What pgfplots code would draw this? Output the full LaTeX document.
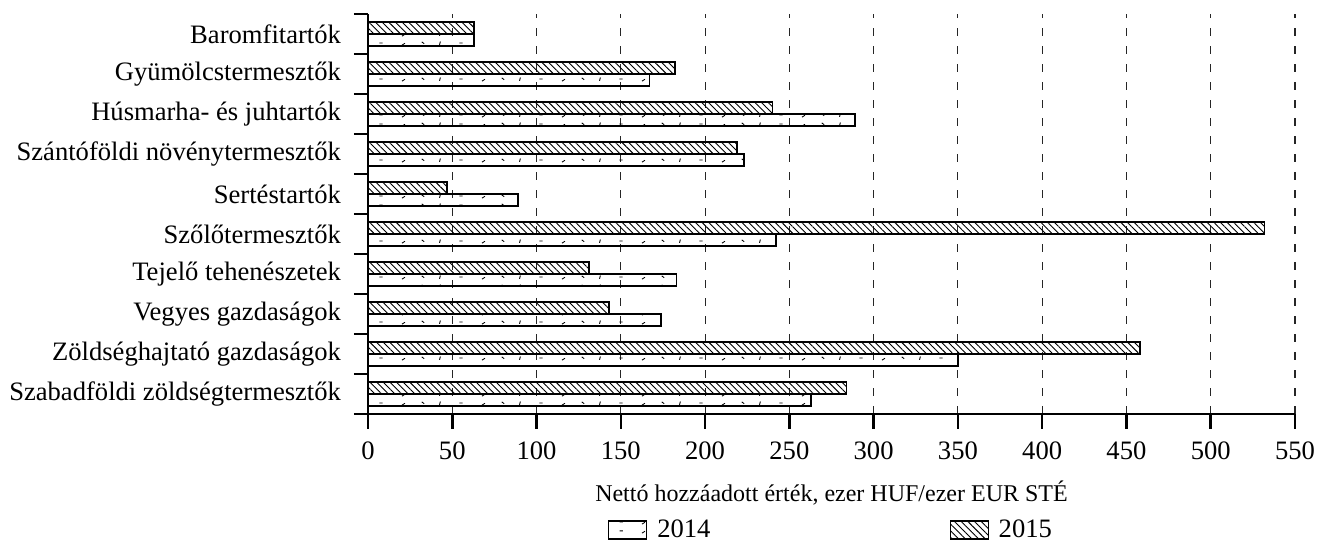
\documentclass[border=0pt]{standalone}
\usepackage{fontspec}
\setmainfont{Liberation Serif}
\usepackage{pgfplots}
\pgfplotsset{compat=1.18}
\usetikzlibrary{patterns,patterns.meta}

\pgfdeclarepatternformonly{randdash}{\pgfpoint{0pt}{0pt}}{\pgfpoint{40pt}{4.6pt}}{\pgfpoint{40pt}{4.6pt}}{%
  \pgfsetlinewidth{0.45pt}%
  \pgfpathmoveto{\pgfpoint{1pt}{1pt}}\pgfpathlineto{\pgfpoint{2.5pt}{2pt}}%
  \pgfpathmoveto{\pgfpoint{11pt}{2.8pt}}\pgfpathlineto{\pgfpoint{12.2pt}{1.8pt}}%
  \pgfpathmoveto{\pgfpoint{20pt}{1.2pt}}\pgfpathlineto{\pgfpoint{20.4pt}{3pt}}%
  \pgfpathmoveto{\pgfpoint{30pt}{2.2pt}}\pgfpathlineto{\pgfpoint{31.6pt}{2.2pt}}%
  \pgfusepath{stroke}%
}

\begin{document}
\begin{tikzpicture}
\begin{axis}[
  at={(184pt,65pt)}, anchor=south west,
  scale only axis, width=463.5pt, height=200pt,
  xmin=0, xmax=550, ymin=-0.5, ymax=9.5,
  xtick={0,50,...,550},
  ytick={0,...,9},
  yticklabels={Szabadföldi zöldségtermesztők, Zöldséghajtató gazdaságok, Vegyes gazdaságok, Tejelő tehenészetek, Szőlőtermesztők, Sertéstartók, Szántóföldi növénytermesztők, Húsmarha- és juhtartók, Gyümölcstermesztők, Baromfitartók},
  minor ytick={-0.5,0.5,...,9.5},
  axis x line*=bottom, axis y line*=left,
  axis line style={line width=1.3pt, -},
  tick align=outside,
  major tick length=7.5pt,
  minor tick length=7pt,
  major y tick style={draw=none},
  minor y tick style={line width=1.3pt, black},
  major x tick style={line width=1.3pt, black},
  xmajorgrids,
  major x grid style={dash pattern=on 4pt off 5pt, line width=0.55pt, black!85},
  /pgf/number format/assume math mode=true,
  xticklabel style={font=\fontsize{13.3}{15}\selectfont, anchor=base, yshift=-15.5pt},
  yticklabel style={font=\fontsize{13.3}{15}\selectfont, xshift=-2.5pt},
  xlabel={Nettó hozzáadott érték, ezer HUF/ezer EUR STÉ},
  xlabel style={font=\fontsize{12}{14}\selectfont, at={(axis description cs:0.5,0)}, anchor=base, yshift=-43.85pt},
  xbar, bar width=0.3,
  legend columns=2,
  legend style={at={(axis description cs:0.4984,-0.29)}, anchor=center, draw=none,
    font=\fontsize{13.3}{15}\selectfont,
    nodes={inner sep=0pt},
    /tikz/every odd column/.append style={column sep=5pt},
    /tikz/every even column/.append style={column sep=119.5pt}},
  legend image code/.code={\draw[#1, line width=0.6pt] (0pt,-4.5pt) rectangle (19pt,4.5pt);},
]
\addplot[draw=black, line width=0.8pt, pattern=randdash, bar shift=-0.15] coordinates {
  (263,0) (350,1) (174,2) (183,3) (242,4) (89,5) (223,6) (289,7) (167,8) (63,9)};
\addlegendentry{2014}
\addplot[draw=black, line width=0.8pt, pattern={Lines[angle=-45, distance=2.35pt, line width=0.45pt]}, bar shift=0.15] coordinates {
  (284,0) (458,1) (143,2) (131,3) (532,4) (47,5) (219,6) (240,7) (182,8) (63,9)};
\addlegendentry{2015}
\end{axis}
\pgfresetboundingbox
\useasboundingbox (0,0) rectangle (664pt,272pt);
\end{tikzpicture}
\end{document}
